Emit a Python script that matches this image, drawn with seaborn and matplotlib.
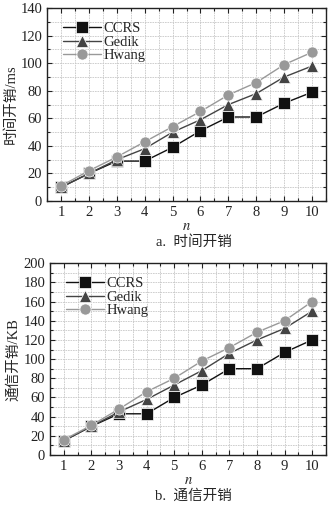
import numpy as np
import pandas as pd
import matplotlib
matplotlib.use("Agg")
import matplotlib.pyplot as plt
from matplotlib.ticker import MultipleLocator
import seaborn as sns

sns.set_style("ticks")
plt.rcParams["font.family"] = ["Liberation Serif", "Noto Sans CJK SC"]
plt.rcParams["mathtext.fontset"] = "stix"

n_values = [1, 2, 3, 4, 5, 6, 7, 8, 9, 10]
methods = ["CCRS", "Gedik", "Hwang"]

time_ccrs = [10, 20, 29, 29, 39, 51, 61, 61, 71, 79]
time_gedik = [10, 20, 30, 38, 50, 59, 70, 78, 90, 98]
time_hwang = [11, 22, 32, 43, 54, 65, 77, 86, 99, 108]

comm_ccrs = [15, 30, 43, 43, 60, 73, 90, 90, 107, 120]
comm_gedik = [15, 30, 45, 58, 73, 88, 106, 120, 132, 150]
comm_hwang = [16, 31, 48, 66, 80, 98, 112, 128, 140, 160]

palette = {"CCRS": "#111111", "Gedik": "#444444", "Hwang": "#999999"}
markers = {"CCRS": "s", "Gedik": "^", "Hwang": "o"}

FS = 10.5


def long_frame(series):
    rows = []
    for name, vals in zip(methods, series):
        for x, v in zip(n_values, vals):
            rows.append({"n": x, "value": v, "method": name})
    return pd.DataFrame(rows)


fig = plt.figure(figsize=(3.34, 5.09), dpi=100)
ax1 = fig.add_axes([0.141, 0.605, 0.835, 0.379])
ax2 = fig.add_axes([0.150, 0.106, 0.826, 0.377])


def draw(ax, df, ymax, ystep, ylabel):
    sns.lineplot(data=df, x="n", y="value", hue="method", style="method",
                 palette=palette, markers=markers, dashes=False,
                 markersize=8, linewidth=1.0, markeredgewidth=0.5,
                 ax=ax)
    ax.set_xlim(0.5, 10.5)
    ax.set_ylim(0, ymax)
    ax.xaxis.set_major_locator(MultipleLocator(1))
    ax.xaxis.set_minor_locator(MultipleLocator(0.5))
    ax.yaxis.set_major_locator(MultipleLocator(ystep))
    ax.yaxis.set_minor_locator(MultipleLocator(ystep / 2))
    ax.grid(True, which="both", color="#c8c8c8", linestyle=(0, (2, 1)), linewidth=0.6)
    ax.set_axisbelow(True)
    ax.tick_params(which="both", direction="in", top=True, right=True,
                   labelsize=FS, colors="#222222", width=0.8)
    ax.tick_params(which="major", length=3.5)
    ax.tick_params(which="minor", length=2)
    for s in ax.spines.values():
        s.set_linewidth(1.0)
        s.set_color("#222222")
    ax.set_xlabel("$n$", fontsize=FS, labelpad=1)
    ax.set_ylabel(ylabel, fontsize=FS, labelpad=2)
    leg = ax.legend(loc="upper left", frameon=False, fontsize=FS,
                    handlelength=2.6, handletextpad=0.2, labelspacing=0.0,
                    borderaxespad=0.3, bbox_to_anchor=(0.02, 0.98))
    for h in leg.legend_handles:
        h.set_markersize(8)


draw(ax1, long_frame([time_ccrs, time_gedik, time_hwang]), 140, 20, "时间开销/ms")
draw(ax2, long_frame([comm_ccrs, comm_gedik, comm_hwang]), 200, 20, "通信开销/KB")

fig.text(0.58, 1 - 242 / 509, "a.  时间开销", ha="center", va="center", fontsize=FS)
fig.text(0.58, 1 - 496 / 509, "b.  通信开销", ha="center", va="center", fontsize=FS)

fig.savefig("out.png", dpi=100)
